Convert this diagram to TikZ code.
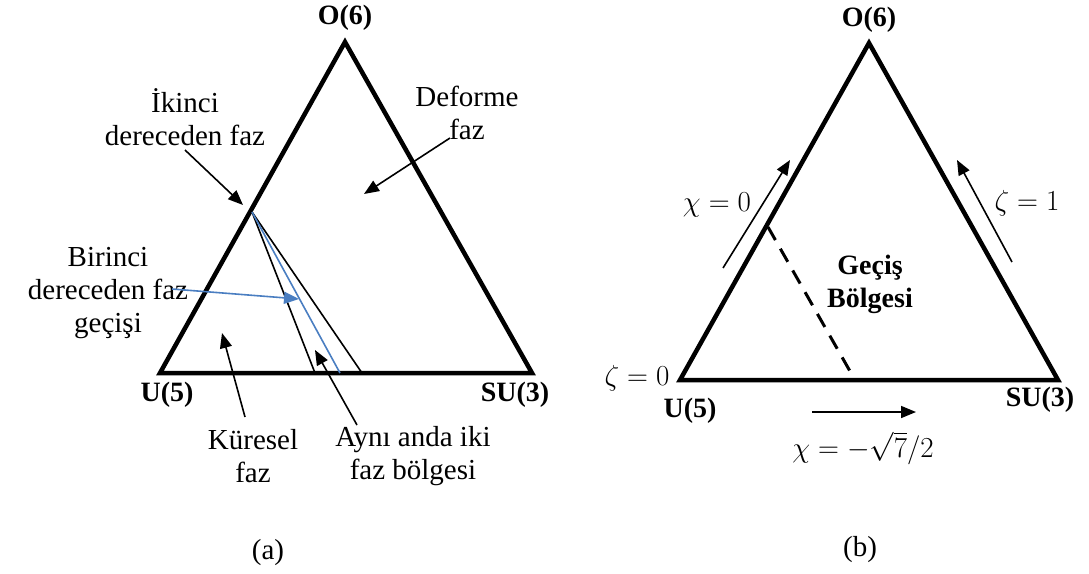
\RequirePackage{fix-cm}
\documentclass[tikz,border=0pt]{standalone}
\usepackage{fontspec}
\setmainfont{Liberation Serif}
\usetikzlibrary{arrows.meta}

\definecolor{phaseblue}{RGB}{74,126,193}

\begin{document}
\begin{tikzpicture}[
  x=1pt, y=-1pt,
  every node/.style={inner sep=0pt, align=center, font=\fontsize{29}{33}\selectfont},
  boldlbl/.style={font=\fontsize{28}{33}\selectfont\bfseries},
  tri/.style={line width=4.5pt, line join=miter},
  phaseline/.style={line width=1.6pt},
  arrow/.style={-{Triangle[length=15pt,width=12pt]}, line width=1.6pt}
]
\useasboundingbox (0,0) rectangle (1089,573);

% (a)
\coordinate (aO) at (345,42);
\coordinate (aU) at (160,373);
\coordinate (aS) at (532,373);
\coordinate (ikinciP) at (252,212);
\coordinate (firstA) at (315,373);
\coordinate (firstB) at (340,373);
\coordinate (firstC) at (362,373);

\draw[tri] (aO) -- (aU) -- (aS) -- cycle;
\draw[phaseline] (ikinciP) -- (firstA);
\draw[phaseline] (ikinciP) -- (firstC);
\draw[phaseline, phaseblue] (ikinciP) -- (firstB);

\node[boldlbl] (aO6) at (345,18) {O(6)};
\node[boldlbl] (aU5) at (167,395) {U(5)};
\node[boldlbl] (aSU3) at (515,395) {SU(3)};
\node (ikinci) at (185,117) {İkinci\\dereceden faz};
\node (deforme) at (467,113) {Deforme\\faz};
\node (birinci) at (108,293) {Birinci\\dereceden faz\\geçişi};
\node (kuresel) at (253,456) {Küresel\\faz};
\node (ayni) at (413,456) {Aynı anda iki\\faz bölgesi};
\node (capa) at (268,553) {(a)};

\coordinate (ikinciS) at (185,150);
\coordinate (ikinciT) at (243,205);
\coordinate (deformeS) at (450,138);
\coordinate (deformeT) at (364,194);
\coordinate (birinciS) at (172,289);
\coordinate (birinciT) at (299,299);
\coordinate (kureselS) at (245,417);
\coordinate (kureselT) at (222,333);
\coordinate (ayniS) at (357,425);
\coordinate (ayniT) at (315,350);

\draw[arrow] (ikinciS) -- (ikinciT);
\draw[arrow] (deformeS) -- (deformeT);
\draw[arrow, phaseblue] (birinciS) -- (birinciT);
\draw[arrow] (kureselS) -- (kureselT);
\draw[arrow] (ayniS) -- (ayniT);

% (b)
\coordinate (bO) at (869,43);
\coordinate (bU) at (680,380);
\coordinate (bS) at (1058,380);
\coordinate (gecisA) at (768,227);
\coordinate (gecisB) at (855,380);

\draw[tri] (bO) -- (bU) -- (bS) -- cycle;
\draw[line width=3pt, dash pattern=on 15pt off 10pt] (gecisA) -- (gecisB);

\node[boldlbl] (bO6) at (869,20) {O(6)};
\node[boldlbl] (bU5) at (690,411) {U(5)};
\node[boldlbl] (bSU3) at (1040,400) {SU(3)};
\node[boldlbl] (gecis) at (870,284) {Geçiş\\Bölgesi};
\node (chizero) at (717,205) {$\chi=0$};
\node (zetaone) at (1027,203) {$\zeta=1$};
\node (zetazero) at (637,378) {$\zeta=0$};
\node (chisu) at (863,448) {$\chi=-\sqrt{7}/2$};
\node (capb) at (860,550) {(b)};

\coordinate (chiS) at (723,268);
\coordinate (chiT) at (790,160);
\coordinate (zetaS) at (1012,262);
\coordinate (zetaT) at (957,160);
\coordinate (botS) at (812,412);
\coordinate (botT) at (916,412);

\draw[arrow] (chiS) -- (chiT);
\draw[arrow] (zetaS) -- (zetaT);
\draw[arrow] (botS) -- (botT);

\end{tikzpicture}
\end{document}
